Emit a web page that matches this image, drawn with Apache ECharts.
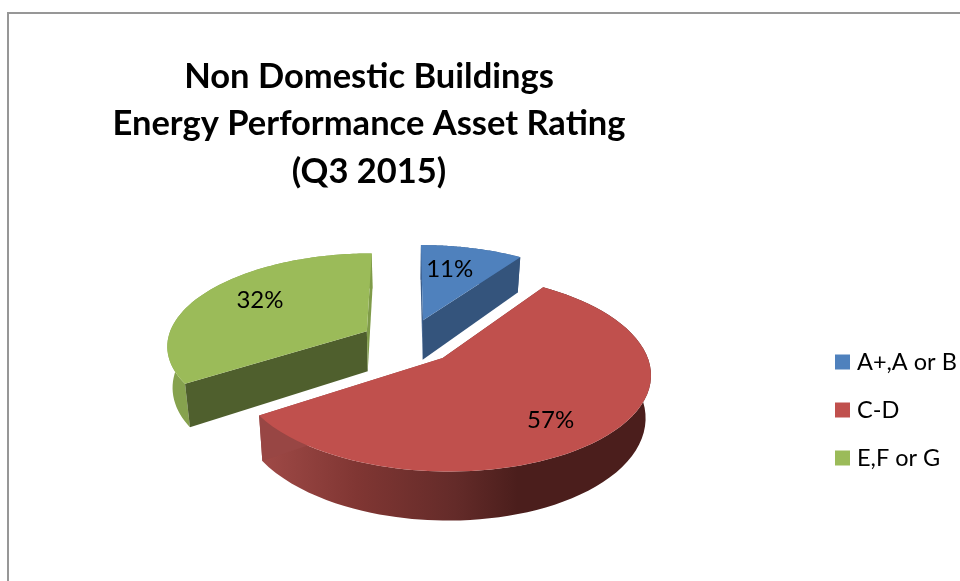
<!DOCTYPE html>
<html><head><meta charset="utf-8">
<style>html,body{margin:0;padding:0;background:#fff}#c{width:960px;height:581px}</style>
<script src="https://cdn.jsdelivr.net/npm/echarts@6/dist/echarts.min.js"></script>
</head><body><div id="c"></div>
<script>
// ---- data ----
const categories = ['A+,A or B', 'C-D', 'E,F or G'];
const percentages = [11, 57, 32];
const titleLines = ['Non Domestic Buildings', 'Energy Performance Asset Rating', '(Q3 2015)'];

// ---- look ----
const FONT = 'Lato';
const topColors = ['#4f81bd', '#c0504d', '#9bbb59'];
const cutColorsStart = ['#3b5e8c', '#7d3432', '#4f5f2d'];
const cutColorsEnd = ['#34547c', '#984644', '#7f9b49'];
const redWall = {type:'linear',x:0,y:0,x2:1,y2:0,colorStops:[
  {offset:0,color:'#a04a47'},{offset:0.25,color:'#803633'},{offset:0.5,color:'#642b29'},{offset:0.66,color:'#4b1e1c'},{offset:1,color:'#4b1e1c'}]};
const wallFills = ['#3b5e8c', redWall, '#86a24e'];
// slice offsets on the pie plane (explosion), in radius units
const explodeX = [0.088, 0.179, -0.199];
const explodeY = [0.276, -0.138, 0.152];
const labelR = [0.665, 0.75, 0.69];
const labelShift = [-6, -0.5, 0];
// perspective camera
const cam = {vx:406, vy:-295, H:640, A:201, a:0.145, D:41, taper:0.022};
// the source renderer pulls slice edges towards the depth axis
const warpBack = 0.085, warpFront = 0.18;

const total = percentages.reduce((s,v)=>s+v,0);
const starts = percentages.map((_,i)=>percentages.slice(0,i).reduce((s,v)=>s+v,0)/total*Math.PI*2);

function warp(t){
  return t - (t<Math.PI ? warpBack : warpFront)*Math.sin(2*t);
}
function project(X,Y,Z){
  const w = 1 + cam.a*Y;
  return [cam.vx + cam.A*X/w*(1-cam.taper*Z), cam.vy + cam.H/w + cam.D*Z/w];
}
function slicePoint(i,r,th,Z){
  return project(explodeX[i]+r*Math.sin(th), explodeY[i]+r*Math.cos(th), Z);
}
function poly(points,fill){
  return {type:'polygon',shape:{points},style:{fill,stroke:null},silent:true};
}
function renderSlice(i){
  return function(params,api){
    const val = api.value(0);
    const a0 = starts[i], a1 = a0 + val/total*Math.PI*2;
    const n = 72, arcTop=[], arcBot=[];
    for(let k=0;k<=n;k++){
      const t=warp(a0+(a1-a0)*k/n);
      arcTop.push(slicePoint(i,1,t,0));
      arcBot.push(slicePoint(i,1,t,1));
    }
    const apexT=slicePoint(i,0,0,0), apexB=slicePoint(i,0,0,1);
    const mid=(a0+a1)/2+labelShift[i]*Math.PI/180;
    const lp=slicePoint(i,labelR[i],mid,0);
    return {type:'group',children:[
      poly(arcTop.concat(arcBot.slice().reverse()),wallFills[i]),
      poly([apexT,arcTop[0],arcBot[0],apexB],cutColorsStart[i]),
      poly([apexT,arcTop[n],arcBot[n],apexB],cutColorsEnd[i]),
      poly([apexT].concat(arcTop),topColors[i]),
      {type:'text',x:lp[0],y:lp[1],silent:true,style:{text:val+'%',font:'24px '+FONT,fill:'#000',align:'center',verticalAlign:'middle'}}
    ]};
  };
}
const drawOrder=[2,0,1];
const chart = echarts.init(document.getElementById('c'),null,{renderer:'canvas'});
chart.setOption({
  animation:false,
  backgroundColor:'#fff',
  color:topColors,
  title:{text:titleLines.join('\n'),left:364,top:48,textAlign:'center',
    textStyle:{fontFamily:FONT,fontSize:34.5,fontWeight:'bold',color:'#000',lineHeight:47.5}},
  legend:{orient:'vertical',left:835,top:350,padding:0,itemWidth:15,itemHeight:15,itemGap:24,icon:'rect',selectedMode:false,
    data:categories,textStyle:{fontFamily:FONT,fontSize:23.5,color:'#000',padding:[0,0,0,2]}},
  graphic:[{type:'polyline',silent:true,shape:{points:[[8,581],[8,13],[960,13]]},style:{stroke:'#979797',lineWidth:2,fill:null}}],
  series:drawOrder.map(i=>({type:'custom',name:categories[i],coordinateSystem:'none',
    itemStyle:{color:topColors[i]},silent:true,
    data:[[percentages[i]]],renderItem:renderSlice(i)}))
});
</script></body></html>
